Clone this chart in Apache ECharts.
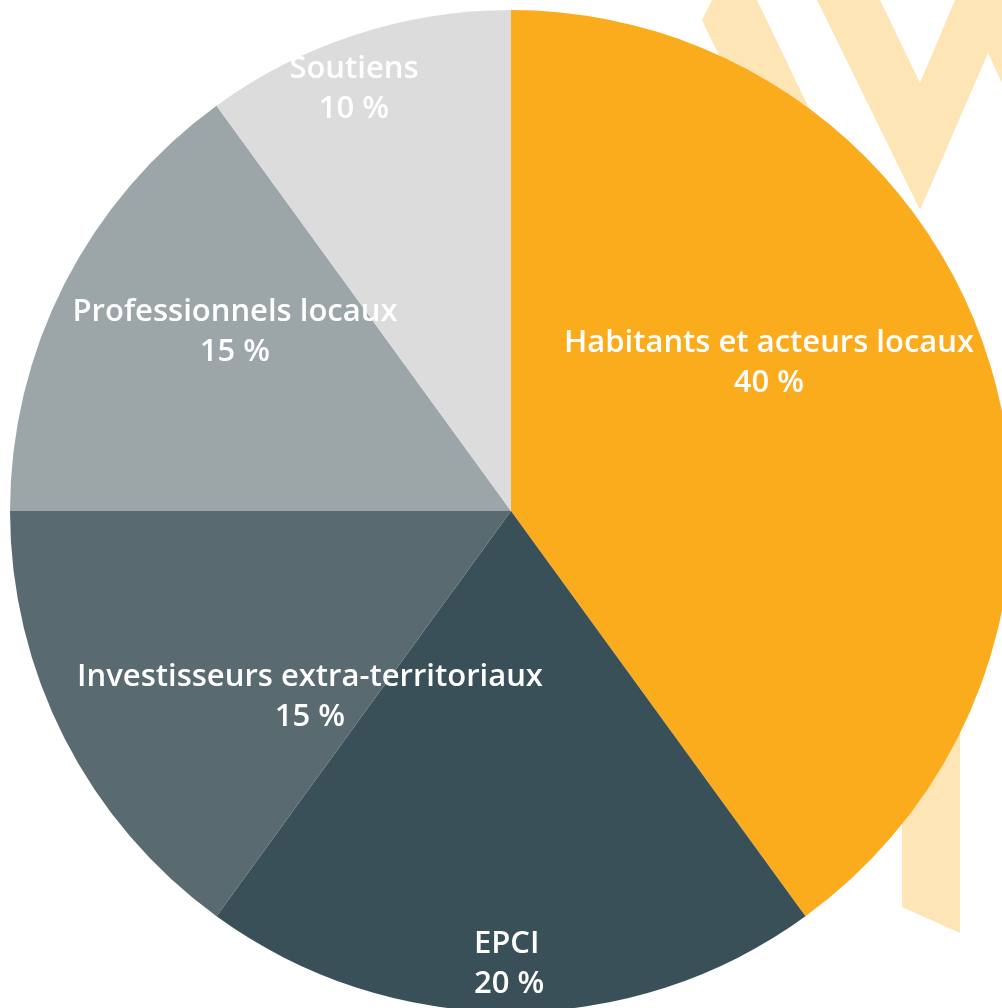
<!DOCTYPE html>
<html>
<head>
<meta charset="utf-8">
<script src="https://cdn.jsdelivr.net/npm/echarts@6/dist/echarts.min.js"></script>
<style>
  html, body { margin: 0; padding: 0; background: #fff; }
  #chart { width: 1002px; height: 1008px; }
</style>
</head>
<body>
<div id="chart"></div>
<script>
// parts of the funding, clockwise from the top
var categories = ['Habitants et acteurs locaux', 'EPCI', 'Investisseurs extra-territoriaux', 'Professionnels locaux', 'Soutiens']
var shares = [40, 20, 15, 15, 10]
var colors = ['#FBAC1D', '#3A5058', '#596A70', '#9CA5A8', '#DCDCDC']

// where each label sits, in px from the pie centre
var labelSpots = [[258, -148], [-37, 453], [-201, 186], [-276, -179], [-157, -422]]
var labelAlign = ['center', 'left', 'center', 'center', 'center']

var cx = 511, cy = 511, R = 501
var wash = '#FEE5B6'

var chart = echarts.init(document.getElementById('chart'))

chart.setOption({
  backgroundColor: '#fff',
  animation: false,
  // pale logo watermark behind the pie
  graphic: [
    { type: 'polygon', z: -10, shape: { points: [[702, 20], [712, 0], [757, 0], [853, 200], [788, 200]] }, style: { fill: wash } },
    { type: 'polygon', z: -10, shape: { points: [[817, 0], [880, 0], [920, 83], [955, 0], [1002, 0], [1002, 83], [988, 53], [920, 210]] }, style: { fill: wash } },
    { type: 'polygon', z: -10, shape: { points: [[902, 700], [960, 700], [960, 933], [902, 907]] }, style: { fill: wash } }
  ],
  series: [
    {
      type: 'pie',
      center: [cx, cy],
      radius: R,
      startAngle: 90,
      clockwise: true,
      z: 2,
      itemStyle: { borderWidth: 0 },
      label: {
        show: true,
        position: 'inside',
        color: '#fff',
        fontFamily: 'Open Sans',
        fontWeight: 600,
        fontSize: 31,
        lineHeight: 40,
        formatter: function (p) {
          return p.name + '\n' + p.value + ' %'
        }
      },
      labelLine: { show: false },
      labelLayout: function (p) {
        var s = labelSpots[p.dataIndex]
        return {
          x: cx + s[0],
          y: cy + s[1],
          align: labelAlign[p.dataIndex],
          verticalAlign: 'middle'
        }
      },
      emphasis: { disabled: true },
      data: categories.map(function (name, i) {
        return { name: name, value: shares[i], itemStyle: { color: colors[i] } }
      })
    }
  ]
})
</script>
</body>
</html>
